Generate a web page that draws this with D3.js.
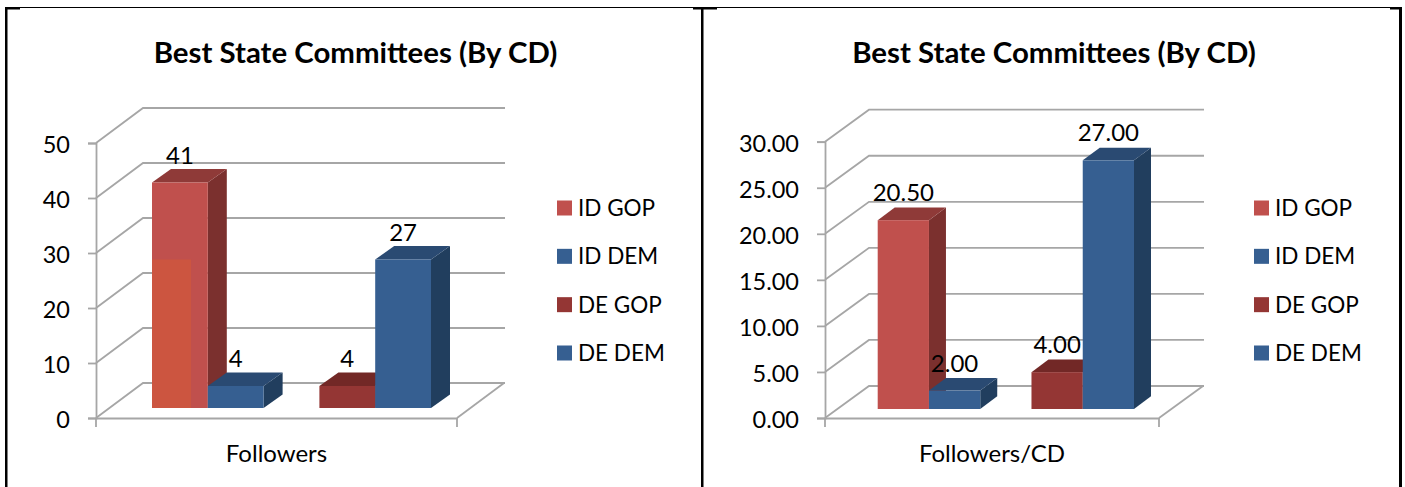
<!DOCTYPE html>
<html>
<head>
<meta charset="utf-8">
<script src="https://cdn.jsdelivr.net/npm/d3@7"></script>
<style>
  html, body { margin: 0; padding: 0; background: #fff; }
  svg { display: block; }
  text { font-family: Lato, sans-serif; fill: #000; }
</style>
</head>
<body>
<svg id="chart" width="1405" height="487"></svg>
<script>
const chartTitle = 'Best State Committees (By CD)';
const seriesNames = ['ID GOP', 'ID DEM', 'DE GOP', 'DE DEM'];
const barSlots = ['ID GOP', 'ID DEM', 'gap', 'DE GOP', 'DE DEM'];
const followersValues = [41, 4, 4, 27];
const followersPerCdValues = [20.5, 2, 4, 27];
const followersTicks = [0, 10, 20, 30, 40, 50];
const perCdTicks = [0, 5, 10, 15, 20, 25, 30];
const overlayValue = 27; // lighter orange patch inside the first left bar

const colors = {
  'ID GOP': { front: '#c0504d', side: '#7b302e', top: '#8f3a38' },
  'ID DEM': { front: '#365f91', side: '#213e5e', top: '#2a4a72' },
  'DE GOP': { front: '#943634', side: '#6f2725', top: '#722826' },
  'DE DEM': { front: '#365f91', side: '#213e5e', top: '#2a4a72' }
};
const gridColor = '#a6a6a6';

const svg = d3.select('#chart');

// page frame, thin rule on top with heavier corners
const frame = svg.append('g').attr('fill', '#000');
[[5, 7, 1397, 1], [5, 7, 15, 2.5], [693, 7, 24, 2.5], [1390, 7, 12, 2.5],
 [5, 7, 2.5, 480], [701, 7, 2.5, 480], [1399, 7, 3, 480]].forEach(r => {
  frame.append('rect').attr('x', r[0]).attr('y', r[1]).attr('width', r[2]).attr('height', r[3]);
});

function drawChart(opt) {
  const g = svg.append('g');
  const y = d3.scaleLinear().domain(opt.domain).range([418, opt.yTop]);
  const x = d3.scaleBand().domain(barSlots).range(opt.barRange);
  const cat = d3.scaleBand().domain([opt.category]).range([opt.x0, opt.x1]);
  const barY = v => y(v) - opt.lift;
  const backX = opt.x0 + opt.wallDx;

  // gridlines on the side and back wall
  opt.ticks.forEach(t => {
    g.append('path')
      .attr('d', d3.line()([[opt.x0, y(t)], [backX, y(t) - opt.wallDy], [opt.gridEnd, y(t) - opt.wallDy]]))
      .attr('fill', 'none').attr('stroke', gridColor).attr('stroke-width', 1.8);
  });
  // floor
  g.append('path')
    .attr('d', d3.line()([[opt.x1, 418], [opt.x1 + opt.wallDx, 418 - opt.wallDy]]))
    .attr('fill', 'none').attr('stroke', gridColor).attr('stroke-width', 1.8);

  // value axis
  const yAxis = g.append('g').attr('transform', `translate(${opt.x0},0)`)
    .call(d3.axisLeft(y).tickValues(opt.ticks).tickFormat(d3.format(opt.format)).tickSize(8).tickPadding(18));
  yAxis.selectAll('line').attr('stroke', gridColor).attr('stroke-width', 1.8);
  yAxis.select('.domain').attr('stroke', gridColor).attr('stroke-width', 1.8);
  yAxis.selectAll('text').attr('font-size', 23.5).attr('font-family', 'Lato, sans-serif').attr('dy', '0.42em');

  // category axis
  const xAxis = g.append('g').attr('transform', 'translate(0,418)')
    .call(d3.axisBottom(cat).tickSize(0).tickPadding(35));
  xAxis.select('.domain').attr('stroke', gridColor).attr('stroke-width', 1.8);
  xAxis.selectAll('text').attr('font-size', 24).attr('font-family', 'Lato, sans-serif').attr('dy', '0.36em');
  [opt.x0, opt.x1].forEach(px => {
    g.append('line').attr('x1', px).attr('x2', px).attr('y1', 418).attr('y2', 427)
      .attr('stroke', gridColor).attr('stroke-width', 1.8);
  });

  // bars
  const bars = g.selectAll('g.bar').data(seriesNames.map((s, i) => ({ s, v: opt.values[i] })))
    .join('g').attr('class', 'bar');
  const base = barY(0);
  bars.append('path').attr('fill', d => colors[d.s].side).attr('d', d => {
    const r = x(d.s) + x.bandwidth();
    return d3.line()([[r, barY(d.v)], [r + opt.barDx, barY(d.v) - opt.barDy], [r + opt.barDx, base - opt.barDy], [r, base]]) + 'Z';
  });
  bars.append('path').attr('fill', d => colors[d.s].top).attr('d', d => {
    const l = x(d.s), r = l + x.bandwidth();
    return d3.line()([[l, barY(d.v)], [l + opt.barDx, barY(d.v) - opt.barDy], [r + opt.barDx, barY(d.v) - opt.barDy], [r, barY(d.v)]]) + 'Z';
  });
  bars.append('rect').attr('fill', d => colors[d.s].front)
    .attr('x', d => x(d.s)).attr('width', x.bandwidth())
    .attr('y', d => barY(d.v)).attr('height', d => base - barY(d.v));

  if (opt.overlay) {
    g.append('rect').attr('fill', '#cc5540')
      .attr('x', x('ID GOP')).attr('width', x.bandwidth() * 0.7)
      .attr('y', barY(opt.overlay)).attr('height', base - barY(opt.overlay));
  }

  // value labels
  g.selectAll('text.value').data(seriesNames.map((s, i) => ({ s, v: opt.values[i] })))
    .join('text').attr('class', 'value')
    .attr('x', d => x(d.s) + x.bandwidth() / 2)
    .attr('y', d => barY(d.v) - 27)
    .attr('dy', '0.34em').attr('text-anchor', 'middle').attr('font-size', 24)
    .text(d => d3.format(opt.format)(d.v));

  // title
  g.append('text').attr('x', opt.titleX).attr('y', 53).attr('dy', '0.34em')
    .attr('text-anchor', 'middle').attr('font-size', 29.4).attr('font-weight', 700)
    .text(chartTitle);

  // legend
  const legY = d3.scalePoint().domain(seriesNames).range([208, 353]);
  const leg = g.selectAll('g.leg').data(seriesNames).join('g').attr('class', 'leg')
    .attr('transform', d => `translate(${opt.legendX},${legY(d)})`);
  leg.append('rect').attr('y', -7.5).attr('width', 15).attr('height', 15).attr('fill', d => colors[d].front);
  leg.append('text').attr('x', 21).attr('dy', '0.36em').attr('font-size', 22.5).text(d => d);
}

drawChart({
  category: 'Followers', values: followersValues, ticks: followersTicks, domain: [0, 50],
  format: 'd', overlay: overlayValue, yTop: 143, lift: 10,
  x0: 96, x1: 457, wallDx: 47, wallDy: 35, gridEnd: 505,
  barRange: [152, 431], barDx: 19, barDy: 13.5, titleX: 355.5, legendX: 557
});
drawChart({
  category: 'Followers/CD', values: followersPerCdValues, ticks: perCdTicks, domain: [0, 30],
  format: '.2f', yTop: 141.7, lift: 9,
  x0: 825, x1: 1159, wallDx: 44, wallDy: 32, gridEnd: 1204,
  barRange: [877.7, 1134], barDx: 17, barDy: 12.7, titleX: 1054, legendX: 1254
});
</script>
</body>
</html>
